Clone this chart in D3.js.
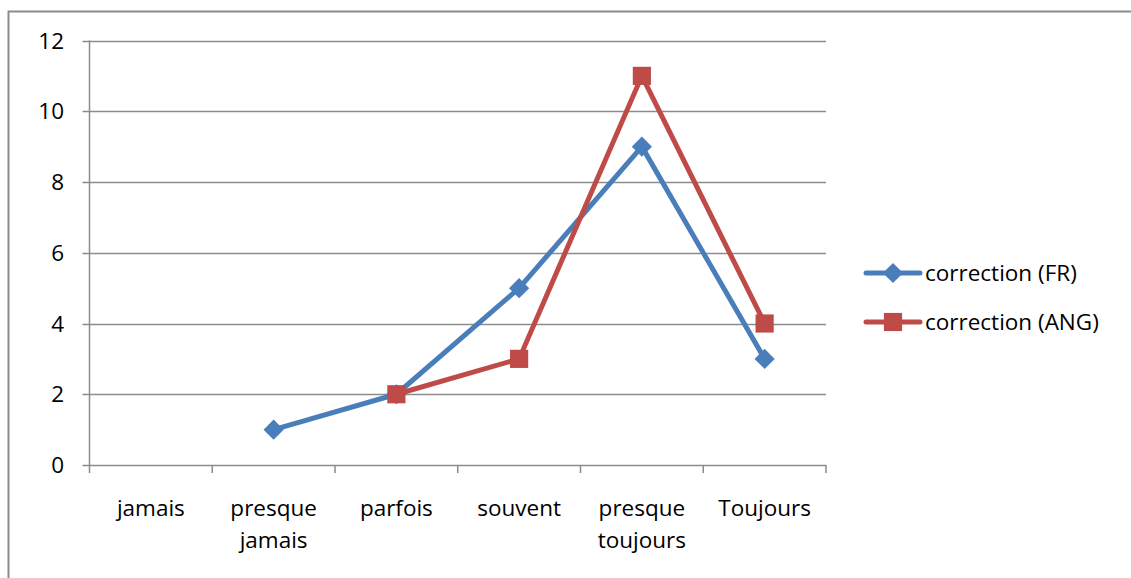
<!DOCTYPE html>
<html lang="fr">
<head>
  <meta charset="UTF-8">
  <title>correction</title>
  <style>
    body { margin: 0; background: #fff; }
    text { font-family: 'Open Sans', 'Noto Sans', sans-serif; fill: #000; font-size: 22.5px; }
  </style>
</head>
<body>
  <svg id="svg" width="1131" height="578"></svg>

  <script src="https://d3js.org/d3.v7.min.js"></script>
  <script>
    const categories = [['jamais'], ['presque', 'jamais'], ['parfois'], ['souvent'], ['presque', 'toujours'], ['Toujours']]
    const frValues = [null, 1, 2, 5, 9, 3]
    const angValues = [null, null, 2, 3, 11, 4]
    const yTicks = [0, 2, 4, 6, 8, 10, 12]
    const seriesNames = ['correction (FR)', 'correction (ANG)']
    const seriesColors = ['#4a7ebb', '#be4b48']

    const svg = d3.select('#svg')

    // outer frame (right and bottom run off the picture)
    svg.append('rect')
      .attr('x', 8.5).attr('y', 11.5)
      .attr('width', 1140).attr('height', 600)
      .attr('fill', 'none').attr('stroke', '#8c8c8c').attr('stroke-width', 2)

    const plotLeft = 89.5, plotRight = 826, plotTop = 40.5, plotBottom = 465

    const xScale = d3.scaleBand()
      .domain(d3.range(categories.length))
      .range([plotLeft, plotRight])

    const yScale = d3.scaleLinear()
      .domain([0, 12])
      .range([plotBottom, plotTop])

    // gridlines
    svg.append('g')
      .selectAll('line')
      .data(yTicks)
      .enter()
      .append('line')
      .attr('x1', plotLeft - 7)
      .attr('x2', plotRight)
      .attr('y1', d => Math.round(yScale(d)) + 0.5)
      .attr('y2', d => Math.round(yScale(d)) + 0.5)
      .attr('stroke', '#8c8c8c')
      .attr('stroke-width', 1.5)

    // y axis
    svg.append('line')
      .attr('x1', plotLeft).attr('x2', plotLeft)
      .attr('y1', plotTop).attr('y2', plotBottom)
      .attr('stroke', '#8c8c8c').attr('stroke-width', 1.5)

    svg.append('g')
      .selectAll('text')
      .data(yTicks)
      .enter()
      .append('text')
      .text(d => d)
      .attr('x', 64)
      .attr('y', d => yScale(d) + 8)
      .attr('text-anchor', 'end')

    // x ticks
    const xTickPos = d3.range(categories.length).map(i => xScale(i)).concat([plotRight])
    svg.append('g')
      .selectAll('line')
      .data(xTickPos)
      .enter()
      .append('line')
      .attr('x1', d => d).attr('x2', d => d)
      .attr('y1', plotBottom).attr('y2', plotBottom + 8)
      .attr('stroke', '#8c8c8c').attr('stroke-width', 1.5)

    // x labels
    const labels = svg.append('g')
      .selectAll('text')
      .data(categories)
      .enter()
      .append('text')
      .attr('text-anchor', 'middle')
    labels.each(function (d, i) {
      const t = d3.select(this)
      d.forEach((row, j) => {
        t.append('tspan')
          .attr('x', xScale(i) + xScale.bandwidth() / 2)
          .attr('y', 516 + j * 32)
          .text(row)
      })
    })

    const cx = i => xScale(i) + xScale.bandwidth() / 2

    const lineGen = d3.line()
      .defined(d => d != null)
      .x((d, i) => cx(i))
      .y(d => yScale(d))

    const allSeries = [frValues, angValues]
    const diamond = d3.symbol().type(d3.symbolDiamond2).size(260)
    const square = d3.symbol().type(d3.symbolSquare).size(330)

    allSeries.forEach((vals, s) => {
      svg.append('path')
        .attr('d', lineGen(vals))
        .attr('fill', 'none')
        .attr('stroke', seriesColors[s])
        .attr('stroke-width', 5)
        .attr('stroke-linejoin', 'round')

      svg.append('g')
        .selectAll('path')
        .data(vals.map((v, i) => ({ v, i })).filter(d => d.v != null))
        .enter()
        .append('path')
        .attr('d', s === 0 ? diamond() : square())
        .attr('transform', d => `translate(${cx(d.i)},${yScale(d.v)})`)
        .attr('fill', seriesColors[s])
    })

    // legend
    const legend = svg.append('g')
      .selectAll('g')
      .data(seriesNames)
      .enter()
      .append('g')
      .attr('transform', (d, i) => `translate(866,${273 + i * 49})`)

    legend.append('line')
      .attr('x1', 0).attr('x2', 54)
      .attr('stroke', (d, i) => seriesColors[i])
      .attr('stroke-width', 5)
      .attr('stroke-linecap', 'round')
    legend.append('path')
      .attr('d', (d, i) => i === 0 ? diamond() : square())
      .attr('transform', 'translate(27,0)')
      .attr('fill', (d, i) => seriesColors[i])
    legend.append('text')
      .text(d => d)
      .attr('x', 59)
      .attr('y', 8)
  </script>
</body>
</html>
